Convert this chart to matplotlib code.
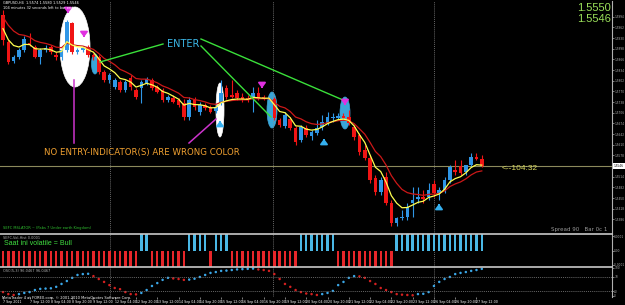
import matplotlib
matplotlib.use('Agg')
import matplotlib.pyplot as plt
from matplotlib.patches import Ellipse, Rectangle
import numpy as np

# GBPUSD H4 candles
opens = [1.5999, 1.5918, 1.5861, 1.5873, 1.5894, 1.5915, 1.5903, 1.5873, 1.5894, 1.5903,
         1.5879, 1.5873, 1.5894, 1.5975, 1.5888, 1.5894, 1.5903, 1.5879, 1.5873, 1.5828,
         1.5804, 1.5783, 1.5798, 1.5774, 1.5810, 1.5774, 1.5780, 1.5795, 1.5804, 1.5783,
         1.5774, 1.5744, 1.5750, 1.5744, 1.5735, 1.5693, 1.5744, 1.5708, 1.5729, 1.5723,
         1.5711, 1.5735, 1.5780, 1.5759, 1.5765, 1.5753, 1.5750, 1.5750, 1.5765, 1.5753,
         1.5747, 1.5747, 1.5684, 1.5666, 1.5687, 1.5660, 1.5624, 1.5660, 1.5636, 1.5645,
         1.5663, 1.5675, 1.5690, 1.5690, 1.5696, 1.5693, 1.5663, 1.5639, 1.5594, 1.5570,
         1.5510, 1.5468, 1.5513, 1.5435, 1.5375, 1.5390, 1.5393, 1.5435, 1.5447, 1.5453,
         1.5453, 1.5492, 1.5465, 1.5474, 1.5504, 1.5534, 1.5546, 1.5528, 1.5549, 1.5573,
         1.5567]
highs = [1.6014, 1.5924, 1.5879, 1.5900, 1.5936, 1.5945, 1.5909, 1.5900, 1.5909, 1.5909,
         1.5888, 1.5900, 1.5984, 1.5978, 1.5900, 1.5906, 1.5909, 1.5885, 1.5879, 1.5834,
         1.5825, 1.5810, 1.5804, 1.5804, 1.5819, 1.5780, 1.5804, 1.5813, 1.5810, 1.5789,
         1.5780, 1.5759, 1.5759, 1.5750, 1.5747, 1.5753, 1.5753, 1.5738, 1.5735, 1.5729,
         1.5729, 1.5804, 1.5789, 1.5804, 1.5774, 1.5765, 1.5759, 1.5783, 1.5783, 1.5759,
         1.5759, 1.5753, 1.5690, 1.5708, 1.5693, 1.5666, 1.5669, 1.5669, 1.5654, 1.5684,
         1.5699, 1.5708, 1.5705, 1.5705, 1.5705, 1.5714, 1.5669, 1.5645, 1.5609, 1.5579,
         1.5519, 1.5513, 1.5528, 1.5444, 1.5393, 1.5414, 1.5435, 1.5483, 1.5483, 1.5474,
         1.5495, 1.5504, 1.5483, 1.5513, 1.5549, 1.5564, 1.5564, 1.5549, 1.5585, 1.5585,
         1.5579]
lows = [1.5909, 1.5852, 1.5855, 1.5867, 1.5888, 1.5906, 1.5870, 1.5852, 1.5888, 1.5882,
        1.5864, 1.5864, 1.5888, 1.5882, 1.5882, 1.5888, 1.5873, 1.5864, 1.5822, 1.5798,
        1.5795, 1.5777, 1.5768, 1.5768, 1.5774, 1.5747, 1.5735, 1.5789, 1.5774, 1.5765,
        1.5738, 1.5738, 1.5735, 1.5723, 1.5684, 1.5684, 1.5714, 1.5699, 1.5714, 1.5705,
        1.5705, 1.5729, 1.5747, 1.5750, 1.5744, 1.5738, 1.5738, 1.5708, 1.5744, 1.5744,
        1.5744, 1.5684, 1.5663, 1.5660, 1.5654, 1.5609, 1.5618, 1.5633, 1.5624, 1.5639,
        1.5654, 1.5669, 1.5678, 1.5684, 1.5684, 1.5669, 1.5624, 1.5579, 1.5564, 1.5495,
        1.5459, 1.5459, 1.5429, 1.5366, 1.5366, 1.5384, 1.5384, 1.5393, 1.5435, 1.5435,
        1.5444, 1.5453, 1.5444, 1.5465, 1.5495, 1.5519, 1.5519, 1.5519, 1.5543, 1.5564,
        1.5543]
closes = [1.5924, 1.5858, 1.5873, 1.5894, 1.5927, 1.5909, 1.5873, 1.5894, 1.5900, 1.5888,
          1.5873, 1.5894, 1.5978, 1.5888, 1.5894, 1.5900, 1.5879, 1.5873, 1.5828, 1.5804,
          1.5819, 1.5804, 1.5774, 1.5798, 1.5783, 1.5753, 1.5798, 1.5807, 1.5780, 1.5768,
          1.5744, 1.5753, 1.5738, 1.5729, 1.5693, 1.5744, 1.5723, 1.5729, 1.5720, 1.5708,
          1.5723, 1.5765, 1.5753, 1.5753, 1.5750, 1.5747, 1.5744, 1.5765, 1.5747, 1.5747,
          1.5750, 1.5690, 1.5669, 1.5699, 1.5660, 1.5618, 1.5663, 1.5639, 1.5648, 1.5660,
          1.5678, 1.5693, 1.5693, 1.5696, 1.5690, 1.5675, 1.5633, 1.5588, 1.5570, 1.5504,
          1.5468, 1.5504, 1.5435, 1.5375, 1.5390, 1.5393, 1.5423, 1.5444, 1.5453, 1.5447,
          1.5474, 1.5465, 1.5474, 1.5504, 1.5543, 1.5528, 1.5525, 1.5549, 1.5573, 1.5567,
          1.5546]
# moving average values at the left edge (before the first bar)
fast_start, slow_start = 1.5975, 1.6008
bid = 1.5546

# volatility histogram: 1 = bull (blue), -1 = bear (red)
vol_hist = [-1, -1, -1, -1, -1, -1, -1, -1, -1, -1, -1, -1, -1, -1, -1, -1, -1, -1, -1, -1,
            -1, -1, -1, -1, -1, -1, 1, 1, -1, -1, -1, -1, -1, -1, -1, 1, 1, 1, 1, -1,
            1, 1, 1, -1, -1, -1, -1, -1, -1, -1, -1, -1, -1, -1, -1, -1, 1, 1, 1, 1,
            1, 1, 1, -1, -1, -1, -1, -1, -1, -1, -1, -1, -1, -1, 1, 1, 1, 1, 1, 1,
            1, 1, 1, 1, 1, 1, 1, 1, 1, 1, 1]

# oscillator (0-100)
osc = [17, 10, 7, 10, 14, 17, 24, 28, 29, 30, 35, 45, 55, 66, 76, 79, 80, 72, 62, 52,
       41, 31, 27, 17, 10, 9, 14, 24, 38, 48, 59, 66, 64, 62, 59, 60, 63, 69, 76, 83,
       86, 90, 91, 93, 95, 96, 97, 98, 95, 93, 90, 79, 62, 45, 35, 24, 17, 12, 10, 7,
       10, 14, 21, 41, 52, 66, 72, 71, 66, 55, 45, 31, 24, 17, 10, 8, 7, 6, 10, 11,
       17, 38, 52, 62, 69, 79, 83, 86, 90, 93, 97]
osc_before = 20

date_idx = [0, 5, 9, 13, 17, 21, 25, 29, 33, 37, 41, 45, 49, 53, 57, 61, 65, 69, 73, 77, 81, 85, 89]
date_labels = ['7 Sep 2011', '7 Sep 12:00', '8 Sep 04:00', '8 Sep 20:00', '9 Sep 12:00',
               '12 Sep 04:00', '12 Sep 20:00', '13 Sep 12:00', '14 Sep 04:00', '14 Sep 20:00',
               '15 Sep 12:00', '16 Sep 04:00', '16 Sep 20:00', '19 Sep 12:00', '20 Sep 04:00',
               '20 Sep 20:00', '21 Sep 12:00', '22 Sep 04:00', '22 Sep 20:00', '23 Sep 12:00',
               '26 Sep 04:00', '26 Sep 20:00', '27 Sep 12:00']

W, H = 625, 305
BAR = 5.32      # pixels per bar
X0 = 3          # pixel of the first bar
AXR = 612       # price scale edge

def ema(vals, period, start):
    a = 2.0 / (period + 1)
    out, prev = [], start
    for v in vals:
        prev = prev + a * (v - prev)
        out.append(prev)
    return out

n = len(closes)
idx = np.arange(n)
o = np.array(opens); c = np.array(closes)
hi = np.array(highs); lo = np.array(lows)
up = c >= o
fast = ema(closes, 5, fast_start)
slow = ema(closes, 10, slow_start)

fig = plt.figure(figsize=(W / 100, H / 100), dpi=100, facecolor='black')

def px_axes(top, bottom, z):
    a = fig.add_axes([0, 1 - bottom / H, AXR / W, (bottom - top) / H], zorder=z)
    a.set_facecolor('none')
    a.set_xlim((0 - X0) / BAR, (AXR - X0) / BAR)
    for s in ['left', 'bottom', 'top']:
        a.spines[s].set_visible(False)
    a.spines['right'].set_color('#b0b0b0')
    a.spines['right'].set_linewidth(0.8)
    a.yaxis.tick_right()
    a.tick_params(axis='y', colors='#b0b0b0', labelsize=2.1, length=1.2, width=0.5, pad=0.4)
    a.tick_params(axis='x', bottom=False, labelbottom=False)
    return a

# background layer for the highlight ellipses
bg = fig.add_axes([0, 0, 1, 1], zorder=0)
bg.set_xlim(0, W); bg.set_ylim(H, 0); bg.axis('off')
bg.set_facecolor('black')
for cx, cy, ew, eh, col in [(75, 47, 30, 80, 'white'), (220, 110, 8, 54, 'white'),
                            (95, 64, 7, 20, '#3aa6d8'), (272, 110, 10, 36, '#3aa6d8'),
                            (345, 113, 10, 32, '#3aa6d8')]:
    bg.add_patch(Ellipse((cx, cy), ew, eh, fc=col, ec=col, lw=0.5))

# ---- main price panel
ax = px_axes(1, 234, 1)
ax.set_ylim(1.6044 - 0.0003 * 234, 1.6044 - 0.0003 * 1)
ax.set_yticks([bid + k * 0.0032 for k in range(-5, 15) if k != 0])
ax.yaxis.set_major_formatter(plt.FormatStrFormatter('%.4f'))
colors = np.where(up, '#2f96e6', '#f01414')
ax.vlines(idx, lo, hi, colors=colors, lw=0.8, zorder=2)
body_lo = np.minimum(o, c)
body_h = np.maximum(np.abs(c - o), 0.00018)
ax.bar(idx, body_h, bottom=body_lo, width=0.68, color=colors, lw=0, zorder=3)
ax.plot(idx, slow, color='#cc1818', lw=0.9, zorder=4)
ax.plot(idx, fast, color='#ffff50', lw=0.9, zorder=5)
ax.axhline(bid, color='#8c8a5c', lw=0.8, zorder=1)

# ---- volatility histogram
axh = px_axes(234, 267, 1)
axh.spines['top'].set_visible(True)
axh.spines['top'].set_color('#c8c8c8')
axh.spines['top'].set_linewidth(1.2)
axh.set_ylim(-1, 1)
axh.bar(idx, vol_hist, width=0.45, color=['#4ab8e6' if v > 0 else '#e8262a' for v in vol_hist], lw=0)
axh.set_yticks([0.85, 0, -0.85])
axh.set_yticklabels(['0.0001', '0.00', '-0.0001'])

# ---- oscillator dots
axo = px_axes(267, 297, 1)
axo.spines['top'].set_visible(True)
axo.spines['top'].set_color('#c8c8c8')
axo.spines['top'].set_linewidth(1.2)
axo.set_ylim(0, 103.4)
rising = np.diff(np.array(osc), prepend=osc_before) > 0
axo.scatter(idx, osc, s=3.2, c=np.where(rising, '#3aa6e6', '#d42020'), lw=0)
for lev in [70, 20]:
    axo.axhline(lev, color='#8a8a8a', lw=0.5, ls=(0, (1.5, 1.5)))
axo.set_yticks([100, 70, 20, 4])
axo.set_yticklabels(['100', '70', '20', '0'])
axo.set_xticks(date_idx)
axo.set_xticklabels(date_labels, ha='left')
axo.tick_params(axis='x', bottom=True, labelbottom=True, colors='#b0b0b0', labelsize=2.3,
                length=1.5, width=0.5, pad=0.8)
for lab in axo.get_xticklabels():
    lab.set_color('white')

# day separators
for a in (ax, axh, axo):
    for g in [20.1, 50.75, 81.0]:
        a.axvline(g, color='#8a8a8a', lw=0.5, ls=(0, (1.5, 1.5)), zorder=0)

# ---- annotations on top
top = fig.add_axes([0, 0, 1, 1], zorder=3)
top.set_xlim(0, W); top.set_ylim(H, 0); top.axis('off')
top.patch.set_alpha(0)

for (x1, y1), (x2, y2) in [((163, 44), (100, 62)), ((201, 39), (343, 100)), ((201, 46), (271, 117))]:
    top.plot([x1, x2], [y1, y2], color='#3ae03a', lw=1.0)
for (x1, y1), (x2, y2) in [((74, 80), (74, 143)), ((216, 119), (189, 143))]:
    top.plot([x1, x2], [y1, y2], color='#cc33cc', lw=1.1)

def arrow(x, y, pointing_up, col):
    head = y - 4 if pointing_up else y + 4
    tail = y + 4 if pointing_up else y - 4
    top.annotate('', xy=(x, head), xytext=(x, tail),
                 arrowprops=dict(arrowstyle='-|>,head_length=0.3,head_width=0.22', color=col, lw=1.3))

for x, y in [(68, 12), (84, 36), (262, 87), (345, 104)]:
    arrow(x, y, False, '#e030e0')
for x, y in [(220, 122), (324, 140), (439, 205)]:
    arrow(x, y, True, '#35b0f0')

top.text(183, 44, 'ENTER', color='#3cb8e8', fontsize=7, ha='center', va='center')
top.text(142, 152, 'NO ENTRY-INDICATOR(S) ARE WRONG COLOR', color='#f0a030', fontsize=6.2,
         ha='center', va='center')
top.text(502, 169, '<--104:32', color='#d8d860', fontsize=6, ha='left', va='center',
         family='Liberation Sans')
top.text(611, 8, '1.5550', color='#9be05a', fontsize=8, ha='right', va='center', family='Liberation Sans')
top.text(611, 19, '1.5546', color='#9be05a', fontsize=8, ha='right', va='center', family='Liberation Sans')
top.text(607, 230, 'Spread 90   Bar 0c 1', color='#9a9a9a', fontsize=4, ha='right', va='center')

top.text(3, 3.5, 'GBPUSD,H4  1.5574 1.5580 1.5529 1.5546', color='white', fontsize=2.5, va='center')
top.text(3, 8, '104 minutes 32 seconds left to bar end', color='white', fontsize=2.5, va='center')
top.text(3, 228, 'SEFC MSLATOR ~ (Pabs 7 Under earth Kingdom)', color='#30c030', fontsize=2.6, va='center')
top.text(3, 238, 'SEFC-Vol-Hist 0.0001', color='#b0b0b0', fontsize=2.5, va='center')
top.text(4, 243.5, 'Saat ini volatile = Bull', color='#40e040', fontsize=5, va='center',
         family='Liberation Sans')
top.text(3, 271, 'OSC(5,3) 96.0467 96.0467', color='#b0b0b0', fontsize=2.5, va='center')
top.text(2, 297.5, 'MetaTrader 4 at FOREX.com, \u00a9 2001-2010 MetaQuotes Software Corp.',
         color='white', fontsize=2.6, va='center')

# current price box on the scale
top.add_patch(Rectangle((613, 163), 12, 6, fc='white', ec='none'))
top.text(618.8, 166, '1.5546', color='black', fontsize=2.1, ha='center', va='center')

fig.savefig('out.png', dpi=100, facecolor='black')
